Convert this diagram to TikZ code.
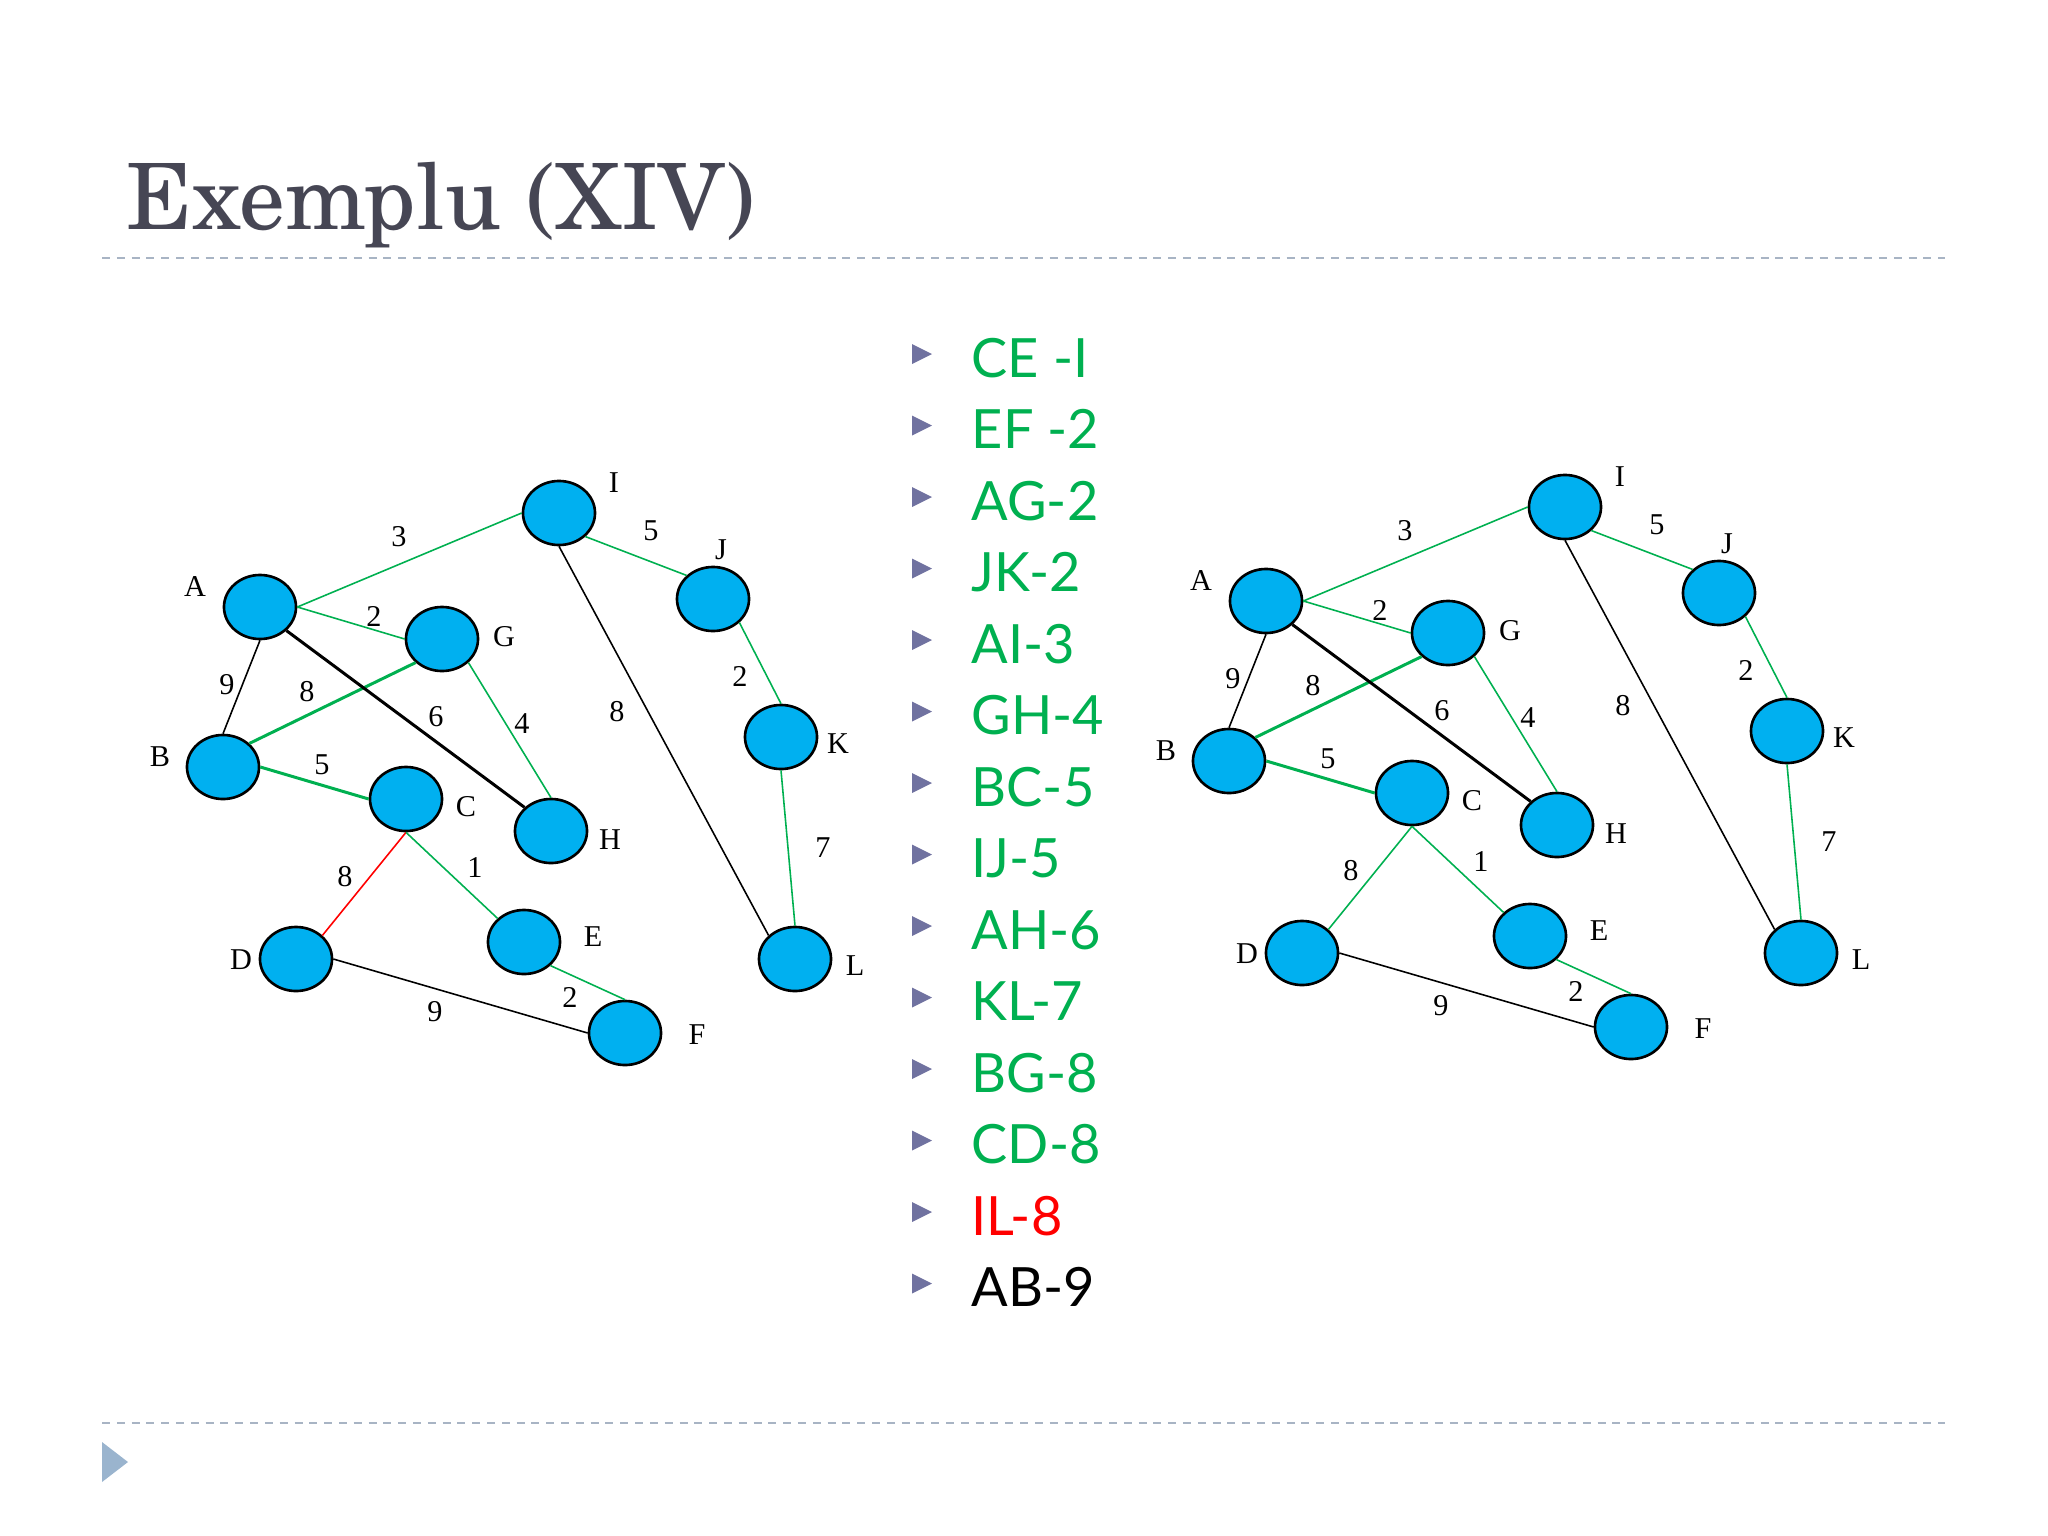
\documentclass[tikz,border=0pt]{standalone}
\usepackage{fontspec}
\usetikzlibrary{shapes.geometric}

\newfontfamily\titlefont{texgyreschola-regular.otf}
\newfontfamily\listfont{Lato}
\newfontfamily\labelfont{Liberation Serif}

\definecolor{kgreen}{RGB}{0,176,80}
\definecolor{kred}{RGB}{255,0,0}
\definecolor{nodeblue}{RGB}{0,176,240}
\definecolor{titlegray}{RGB}{70,70,84}
\definecolor{rulegray}{RGB}{168,180,196}
\definecolor{bulletblue}{RGB}{112,114,160}
\definecolor{cornerblue}{RGB}{154,180,206}

\begin{document}
\begin{tikzpicture}[x=0.01cm,y=-0.01cm]

		\tikzset{vertex/.style = {shape=ellipse,draw,line width=0.75pt,fill=nodeblue,minimum width=0.72cm,minimum height=0.64cm,inner sep=0pt}}
		\tikzset{edge/.style = {line width=0.45pt}}
		\tikzset{heavy/.style = {line width=0.85pt}}
		\tikzset{lbl/.style = {inner sep=0pt,font=\labelfont\fontsize{8.6}{10}\selectfont}}
		\tikzset{item/.style = {anchor=base west,inner sep=0pt,font=\listfont\fontsize{15.4}{18}\selectfont}}

		\useasboundingbox (0,0) rectangle (2048,1536);

		% title and rules
		\node[anchor=base west,inner sep=0pt,text=titlegray,font=\titlefont\fontsize{26}{30}\selectfont] (title) at (126,229) {Exemplu (XIV)};
		\draw[rulegray,line width=0.55pt,dash pattern=on 0.08cm off 0.068cm] (102,258) -- (1945,258);
		\draw[rulegray,line width=0.55pt,dash pattern=on 0.08cm off 0.068cm] (102,1423) -- (1945,1423);
		\fill[cornerblue] (102,1442) -- (128,1462) -- (102,1482) -- cycle;

		% edges in order
		\foreach \txt/\col [count=\i from 0] in {CE -I/kgreen, EF -2/kgreen, AG-2/kgreen, JK-2/kgreen, AI-3/kgreen, GH-4/kgreen, BC-5/kgreen, IJ-5/kgreen, AH-6/kgreen, KL-7/kgreen, BG-8/kgreen, CD-8/kgreen, IL-8/kred, AB-9/black}{
			\pgfmathsetmacro{\y}{377+71.5*\i}
			\fill[bulletblue] (912,\y-33) -- (932,\y-23) -- (912,\y-13) -- cycle;
			\node[item,text=\col] (item\i) at (971,\y) {\txt};
		}

		% the two graphs
		\foreach \p/\dx/\dy/\cd in {l/0/0/kred, r/1006/-6/kgreen}{
		\begin{scope}[shift={(\dx,\dy)},name prefix=\p-]

		\node[vertex] (A) at (260,607) {};
		\node[vertex] (G) at (442,639) {};
		\node[vertex] (I) at (559,513) {};
		\node[vertex] (J) at (713,599) {};
		\node[vertex] (K) at (781,737) {};
		\node[vertex] (B) at (223,767) {};
		\node[vertex] (C) at (406,799) {};
		\node[vertex] (H) at (551,831) {};
		\node[vertex] (L) at (795,959) {};
		\node[vertex] (D) at (296,959) {};
		\node[vertex] (E) at (524,942) {};
		\node[vertex] (F) at (625,1033) {};

		\node[lbl] (tA) at (195,587) {A};
		\node[lbl] (tG) at (504,637) {G};
		\node[lbl] (tI) at (614,483) {I};
		\node[lbl] (tJ) at (721,550) {J};
		\node[lbl] (tK) at (838,744) {K};
		\node[lbl] (tB) at (160,757) {B};
		\node[lbl] (tC) at (466,807) {C};
		\node[lbl] (tH) at (610,840) {H};
		\node[lbl] (tL) at (855,966) {L};
		\node[lbl] (tD) at (241,960) {D};
		\node[lbl] (tE) at (593,937) {E};
		\node[lbl] (tF) at (697,1035) {F};

		\draw[edge,kgreen] (A.east) -- (I.west);
		\draw[edge,kgreen] (I.south east) -- (J.north west);
		\draw[edge,kgreen] (A.east) -- (G.west);
		\draw[edge] (A.south) -- (B.north);
		\draw[heavy,kgreen] (B.north east) -- (G.south west);
		\draw[heavy] (A.south east) -- (H.north west);
		\draw[edge,kgreen] (G.south east) -- (H.north);
		\draw[edge] (I.south) -- (L.north west);
		\draw[edge,kgreen] (J.south east) -- (K.north);
		\draw[heavy,kgreen] (B.east) -- (C.west);
		\draw[edge,kgreen] (K.south) -- (L.north);
		\draw[edge,\cd] (C.south) -- (D.north east);
		\draw[edge,kgreen] (C.south) -- (E.north west);
		\draw[edge,kgreen] (E.south east) -- (F.north);
		\draw[edge] (D.east) -- (F.west);

		\node[lbl] (wAI) at (399,537) {3};
		\node[lbl] (wIJ) at (651,531) {5};
		\node[lbl] (wAG) at (374,616) {2};
		\node[lbl] (wAB) at (227,685) {9};
		\node[lbl] (wBG) at (307,692) {8};
		\node[lbl] (wAH) at (436,717) {6};
		\node[lbl] (wGH) at (522,724) {4};
		\node[lbl] (wIL) at (617,712) {8};
		\node[lbl] (wJK) at (740,676) {2};
		\node[lbl] (wBC) at (322,765) {5};
		\node[lbl] (wKL) at (823,848) {7};
		\node[lbl] (wCD) at (345,877) {8};
		\node[lbl] (wCE) at (475,868) {1};
		\node[lbl] (wEF) at (570,997) {2};
		\node[lbl] (wDF) at (435,1012) {9};

		\end{scope}
		}

\end{tikzpicture}
\end{document}
